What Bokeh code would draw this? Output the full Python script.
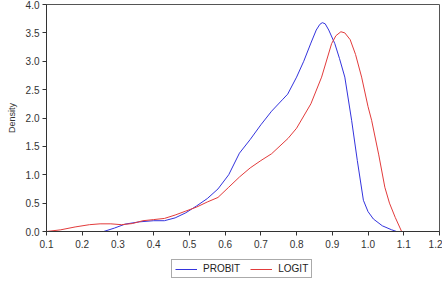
from bokeh.plotting import figure
from bokeh.models import FixedTicker, NumeralTickFormatter, Legend, LegendItem, Range1d
from bokeh.layouts import column
from bokeh.embed import file_html
from bokeh.resources import INLINE

probit_x = [0.26, 0.29, 0.32, 0.36, 0.40, 0.43, 0.46, 0.49, 0.52, 0.55, 0.58, 0.61, 0.64, 0.67,
            0.70, 0.73, 0.76, 0.775, 0.80, 0.82, 0.84, 0.855, 0.865, 0.872, 0.88, 0.89, 0.907,
            0.92, 0.935, 0.954, 0.97, 0.987, 1.00, 1.015, 1.04, 1.066, 1.08]
probit_y = [0.0, 0.06, 0.13, 0.17, 0.19, 0.19, 0.24, 0.33, 0.45, 0.58, 0.75, 1.0, 1.38, 1.62,
            1.88, 2.12, 2.32, 2.42, 2.72, 3.0, 3.32, 3.55, 3.65, 3.68, 3.66, 3.55, 3.31,
            3.05, 2.72, 1.96, 1.25, 0.55, 0.35, 0.22, 0.1, 0.03, 0.0]

logit_x = [0.10, 0.14, 0.18, 0.22, 0.25, 0.28, 0.31, 0.34, 0.37, 0.40, 0.43, 0.46, 0.49, 0.52,
           0.55, 0.58, 0.61, 0.64, 0.67, 0.70, 0.73, 0.776, 0.80, 0.84, 0.87, 0.898, 0.91,
           0.924, 0.935, 0.95, 0.965, 0.982, 1.00, 1.01, 1.03, 1.047, 1.06, 1.076, 1.094]
logit_y = [0.0, 0.03, 0.08, 0.12, 0.135, 0.135, 0.12, 0.14, 0.19, 0.21, 0.23, 0.29, 0.36, 0.43,
           0.52, 0.60, 0.78, 0.96, 1.12, 1.25, 1.37, 1.64, 1.82, 2.25, 2.72, 3.31, 3.45,
           3.52, 3.5, 3.38, 3.12, 2.72, 2.2, 1.96, 1.35, 0.78, 0.5, 0.25, 0.0]

x_ticks = [0.1, 0.2, 0.3, 0.4, 0.5, 0.6, 0.7, 0.8, 0.9, 1.0, 1.1, 1.2]
y_ticks = [0.0, 0.5, 1.0, 1.5, 2.0, 2.5, 3.0, 3.5, 4.0]

BLUE = "#3333dd"
RED = "#e23b3b"

p = figure(width=442, height=255, output_backend="svg", toolbar_location=None,
           x_range=Range1d(0.1, 1.2), y_range=Range1d(0.0, 4.0),
           min_border_left=46, min_border_right=3, min_border_top=4, min_border_bottom=24)
p.xgrid.visible = False
p.ygrid.visible = False
p.outline_line_color = "#555555"
p.outline_line_width = 1

p.line(probit_x, probit_y, line_color=BLUE, line_width=1)
p.line(logit_x, logit_y, line_color=RED, line_width=1)

for ax in (p.xaxis[0], p.yaxis[0]):
    ax.axis_line_color = "#333333"
    ax.major_tick_line_color = "#333333"
    ax.major_tick_out = 4
    ax.major_tick_in = 0
    ax.minor_tick_line_color = None
    ax.major_label_text_font = "Liberation Sans"
    ax.major_label_text_font_size = "10px"
    ax.major_label_text_color = "#333333"
    ax.formatter = NumeralTickFormatter(format="0.0")

p.xaxis[0].ticker = FixedTicker(ticks=x_ticks)
p.yaxis[0].ticker = FixedTicker(ticks=y_ticks)
p.xaxis[0].major_label_standoff = 4
p.yaxis[0].major_label_standoff = 3
p.yaxis[0].axis_label = "Density"
p.yaxis[0].axis_label_text_font = "Liberation Sans"
p.yaxis[0].axis_label_text_font_size = "9px"
p.yaxis[0].axis_label_text_font_style = "normal"
p.yaxis[0].axis_label_text_color = "#333333"
p.yaxis[0].axis_label_standoff = 6

# legend strip below the chart
lg = figure(width=442, height=28, output_backend="svg", toolbar_location=None,
            x_range=Range1d(0, 1), y_range=Range1d(0, 1),
            min_border_left=0, min_border_right=0, min_border_top=0, min_border_bottom=0)
lg.axis.visible = False
lg.grid.visible = False
lg.outline_line_color = None
g1 = lg.line([-2, -1], [-2, -1], line_color=BLUE, line_width=1)
g2 = lg.line([-2, -1], [-2, -1], line_color=RED, line_width=1)

legend = Legend(items=[LegendItem(label="PROBIT", renderers=[g1]),
                       LegendItem(label="LOGIT", renderers=[g2])],
                orientation="horizontal", location=(125, 5),
                label_text_font="Liberation Sans", label_text_font_size="10px",
                label_text_color="#222222", glyph_width=22, glyph_height=10,
                label_height=10, padding=3, spacing=10, margin=0,
                border_line_color="#555555", border_line_width=1,
                label_standoff=6)
lg.add_layout(legend, "center")

layout = column(p, lg, spacing=0)
open("out.html", "w").write(file_html(layout, INLINE))
